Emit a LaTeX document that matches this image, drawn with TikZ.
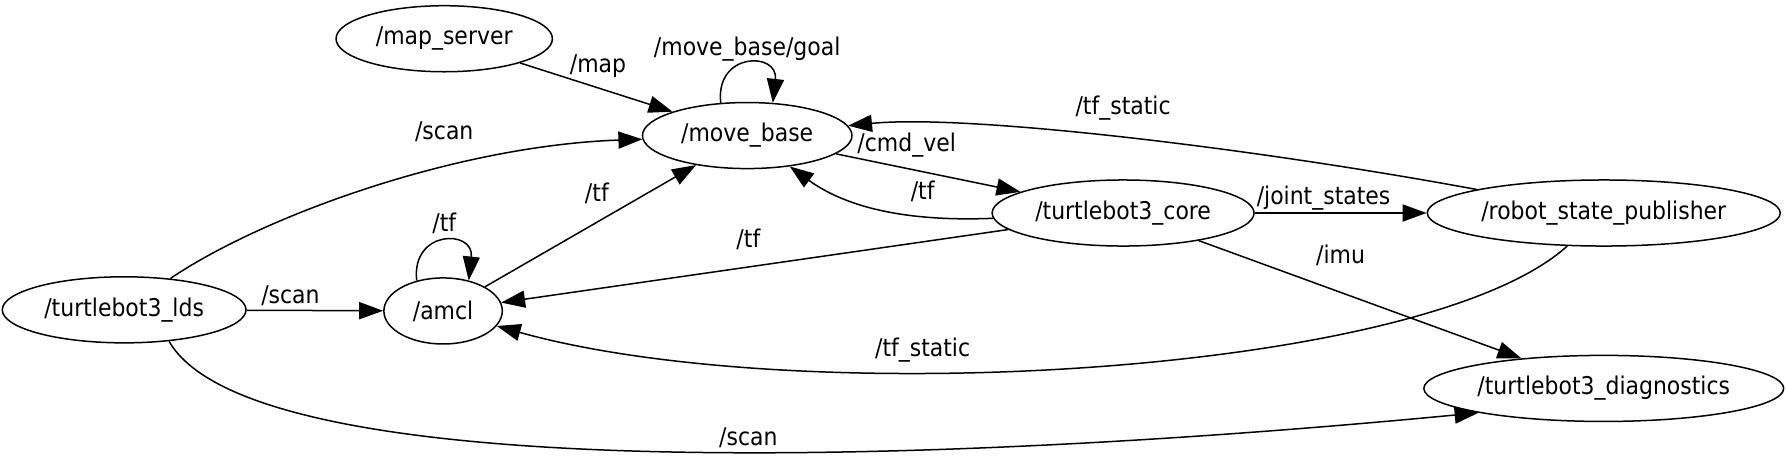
\documentclass[tikz,border=0pt]{standalone}
\usepackage{fontspec}
\setmainfont{DejaVu Sans Condensed}
\usetikzlibrary{arrows.meta,shapes.geometric}

\begin{document}
\begin{tikzpicture}[x=0.02cm, y=-0.02cm, line width=0.75pt,
    >={Triangle[length=0.42cm,width=0.3cm]}, ->,
    font=\fontsize{12.2}{14}\selectfont,
    rosnode/.style={draw, ellipse, inner sep=0pt, minimum height=1.16cm},
    topic/.style={inner sep=0pt}]
  \useasboundingbox (0,0) rectangle (1568,400);
  % nodes
  \node (map) [rosnode, minimum width=3.8cm] at (390,34) {/map\_server};
  \node (mb) [rosnode, minimum width=3.68cm] at (656,119) {/move\_base};
  \node (lds) [rosnode, minimum width=4.28cm] at (109,272) {/turtlebot3\_lds};
  \node (amcl) [rosnode, minimum width=2.08cm] at (389,273) {/amcl};
  \node (core) [rosnode, minimum width=4.6cm] at (986,187) {/turtlebot3\_core};
  \node (rsp) [rosnode, minimum width=6.2cm] at (1408,187) {/robot\_state\_publisher};
  \node (diag) [rosnode, minimum width=6.32cm] at (1408,341) {/turtlebot3\_diagnostics};

  % topics
  \draw (map) -- (mb) node[topic] at (525,58) {/map};
  \draw (mb.129) .. controls +(-5,-45) and +(5,-45) .. (mb.52)
    node[topic] at (656,43) {/move\_base/goal};
  \draw (lds) .. controls (230,190) and (400,128) .. (mb)
    node[topic] at (390,116) {/scan};
  \draw (lds) -- (amcl) node[topic] at (255,260) {/scan};
  \draw (lds.-35) .. controls (220,425) and (800,410) .. (diag.191)
    node[topic] at (657,384) {/scan};
  \draw (amcl.131) .. controls +(-5,-45) and +(5,-45) .. (amcl.50)
    node[topic] at (390,196) {/tf};
  \draw (amcl) -- (mb) node[topic] at (524,170) {/tf};
  \draw (mb) -- (core) node[topic] at (796,127) {/cmd\_vel};
  \draw (core) .. controls (790,195) and (740,180) .. (mb)
    node[topic] at (810,168) {/tf};
  \draw (core) -- (amcl) node[topic] at (657,210) {/tf};
  \draw (core) -- (rsp) node[topic] at (1162,174) {/joint\_states};
  \draw (core) -- (diag) node[topic] at (1177,224) {/imu};
  \draw (rsp) .. controls (1100,130) and (850,100) .. (mb)
    node[topic] at (986,95) {/tf\_static};
  \draw (rsp) .. controls (1250,330) and (700,360) .. (amcl)
    node[topic] at (810,307) {/tf\_static};
\end{tikzpicture}
\end{document}
